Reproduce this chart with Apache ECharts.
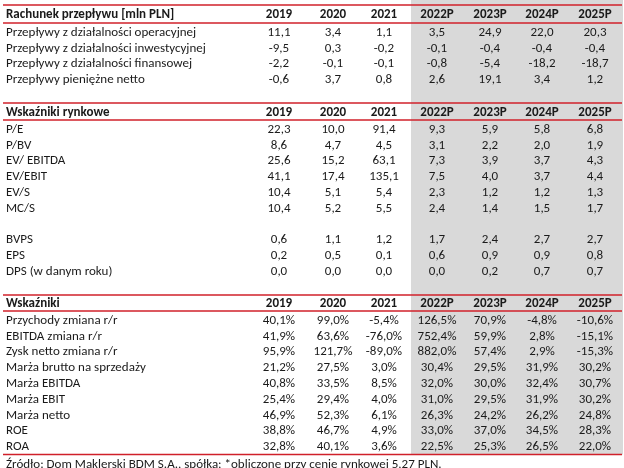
<!DOCTYPE html>
<html><head><meta charset="utf-8">
<script src="https://cdn.jsdelivr.net/npm/echarts@6/dist/echarts.min.js"></script>
<style>html,body{margin:0;padding:0;background:#fff}#c{width:624px;height:468px}</style>
</head><body><div id="c"></div>
<script>
// ---------- DATA ----------
const years = ['2019', '2020', '2021', '2022P', '2023P', '2024P', '2025P'];

const cashTitle = 'Rachunek przepływu [mln PLN]';
const cashLabels = [
  'Przepływy z działalności operacyjnej',
  'Przepływy z działalności inwestycyjnej',
  'Przepływy z działalności finansowej',
  'Przepływy pieniężne netto'
];
const cashValues = [
  [11.1, 3.4, 1.1, 3.5, 24.9, 22.0, 20.3],
  [-9.5, 0.3, -0.2, -0.1, -0.4, -0.4, -0.4],
  [-2.2, -0.1, -0.1, -0.8, -5.4, -18.2, -18.7],
  [-0.6, 3.7, 0.8, 2.6, 19.1, 3.4, 1.2]
];

const marketTitle = 'Wskaźniki rynkowe';
const marketLabels = ['P/E', 'P/BV', 'EV/ EBITDA', 'EV/EBIT', 'EV/S', 'MC/S', '', 'BVPS', 'EPS', 'DPS (w danym roku)'];
const marketValues = [
  [22.3, 10.0, 91.4, 9.3, 5.9, 5.8, 6.8],
  [8.6, 4.7, 4.5, 3.1, 2.2, 2.0, 1.9],
  [25.6, 15.2, 63.1, 7.3, 3.9, 3.7, 4.3],
  [41.1, 17.4, 135.1, 7.5, 4.0, 3.7, 4.4],
  [10.4, 5.1, 5.4, 2.3, 1.2, 1.2, 1.3],
  [10.4, 5.2, 5.5, 2.4, 1.4, 1.5, 1.7],
  null,
  [0.6, 1.1, 1.2, 1.7, 2.4, 2.7, 2.7],
  [0.2, 0.5, 0.1, 0.6, 0.9, 0.9, 0.8],
  [0.0, 0.0, 0.0, 0.0, 0.2, 0.7, 0.7]
];

const ratioTitle = 'Wskaźniki';
const ratioLabels = [
  'Przychody zmiana r/r', 'EBITDA zmiana r/r', 'Zysk netto zmiana r/r',
  'Marża brutto na sprzedaży', 'Marża EBITDA', 'Marża EBIT', 'Marża netto', 'ROE', 'ROA'
];
const ratioValues = [
  [40.1, 99.0, -5.4, 126.5, 70.9, -4.8, -10.6],
  [41.9, 63.6, -76.0, 752.4, 59.9, 2.8, -15.1],
  [95.9, 121.7, -89.0, 882.0, 57.4, 2.9, -15.3],
  [21.2, 27.5, 3.0, 30.4, 29.5, 31.9, 30.2],
  [40.8, 33.5, 8.5, 32.0, 30.0, 32.4, 30.7],
  [25.4, 29.4, 4.0, 31.0, 29.5, 31.9, 30.2],
  [46.9, 52.3, 6.1, 26.3, 24.2, 26.2, 24.8],
  [38.8, 46.7, 4.9, 33.0, 37.0, 34.5, 28.3],
  [32.8, 40.1, 3.6, 22.5, 25.3, 26.5, 22.0]
];

const sourceNote = 'Źródło: Dom Maklerski BDM S.A., spółka; *obliczone przy cenie rynkowej 5,27 PLN.';

// ---------- LAYOUT ----------
const W = 624, H = 468;
const colX = [279, 333, 384, 437, 490, 542, 595];
const labelX = 6;
const rowStep = 15.8;
const lineX0 = 3, lineX1 = 622;
const shadeX0 = 411, shadeX1 = 623;
const FONT = 'Carlito, Lato, "Liberation Sans", sans-serif';
const FS = 13;
const RED = '#d0202a';
const GREY = '#d9d9d9';
const TXT = '#1a1a1a';

const sections = [
  { title: cashTitle, labels: cashLabels, values: cashValues, pct: false, top: 5, under: 23 },
  { title: marketTitle, labels: marketLabels, values: marketValues, pct: false, top: 103, under: 120 },
  { title: ratioTitle, labels: ratioLabels, values: ratioValues, pct: true, top: 295, under: 311 }
];
const bottomLine = 454.5;

function fmt(v, pct) {
  return v.toFixed(1).replace('.', ',') + (pct ? '%' : '');
}

const cells = [];
const hLines = [];
let shadeBottom = bottomLine;
sections.forEach(s => {
  const hy = (s.top + s.under) / 2 + 1;
  cells.push({ x: labelX, y: hy, t: s.title, bold: true, align: 'left' });
  years.forEach((yr, j) => cells.push({ x: colX[j], y: hy, t: yr, bold: true, align: 'center' }));
  hLines.push(s.top, s.under);
  s.labels.forEach((lab, i) => {
    const ry = s.under + 9.5 + i * rowStep;
    if (lab) cells.push({ x: labelX, y: ry, t: lab, bold: false, align: 'left' });
    const row = s.values[i];
    if (row) row.forEach((v, j) => cells.push({ x: colX[j], y: ry, t: fmt(v, s.pct), bold: false, align: 'center' }));
  });
});
hLines.push(bottomLine);
cells.push({ x: labelX, y: bottomLine + 10, t: sourceNote, bold: false, align: 'left' });

const chart = echarts.init(document.getElementById('c'), null, { renderer: 'canvas' });
chart.setOption({
  animation: false,
  backgroundColor: '#fff',
  grid: { left: 0, right: 0, top: 0, bottom: 0 },
  xAxis: { type: 'value', min: 0, max: W, show: false },
  yAxis: { type: 'value', min: 0, max: H, inverse: true, show: false },
  series: [
    {
      type: 'custom', z: 1,
      data: [[shadeX0, shadeX1, 0, shadeBottom]],
      renderItem: (p, api) => {
        const a = api.coord([api.value(0), api.value(2)]);
        const b = api.coord([api.value(1), api.value(3)]);
        return { type: 'rect', shape: { x: a[0], y: a[1], width: b[0] - a[0], height: b[1] - a[1] }, style: { fill: GREY } };
      }
    },
    {
      type: 'custom', z: 2,
      data: hLines.map(y => [lineX0, lineX1, y]),
      renderItem: (p, api) => {
        const a = api.coord([api.value(0), api.value(2)]);
        const b = api.coord([api.value(1), api.value(2)]);
        return { type: 'line', shape: { x1: a[0], y1: a[1], x2: b[0], y2: b[1] }, style: { stroke: RED, lineWidth: 1.6 } };
      }
    },
    {
      type: 'custom', z: 3,
      data: cells.map(c => [c.x, c.y]),
      renderItem: (p, api) => {
        const c = cells[p.dataIndex];
        const pt = api.coord([api.value(0), api.value(1)]);
        return {
          type: 'text', x: pt[0], y: pt[1],
          style: {
            text: c.t, fill: TXT, align: c.align, verticalAlign: 'middle',
            font: (c.bold ? 'bold ' : '') + FS + 'px ' + FONT
          }
        };
      }
    }
  ]
});
</script></body></html>
